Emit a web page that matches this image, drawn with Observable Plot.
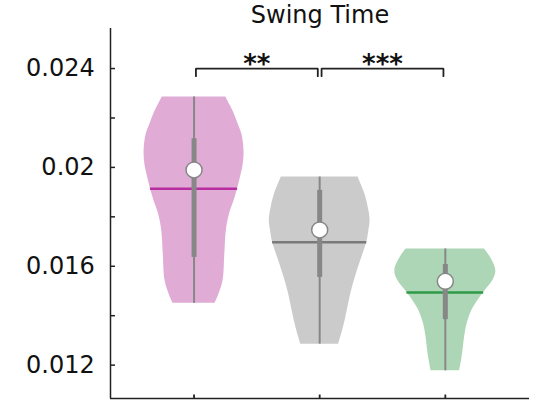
<!DOCTYPE html>
<html>
<head>
<meta charset="utf-8">
<script src="https://cdn.jsdelivr.net/npm/d3@7"></script>
<script src="https://cdn.jsdelivr.net/npm/@observablehq/plot@0.6"></script>
<style>
  html, body { margin: 0; padding: 0; background: #fff; }
  #chart svg { display: block; }
</style>
</head>
<body>
<div id="chart"></div>
<script>
// Group positions along x (the groups carry no tick labels)
const groupPos = [1, 2, 3];

// Violin outlines: sampled swing-time values (ascending) and kernel half-widths (x units)
const violin1Y = [0.01450, 0.01488, 0.01542, 0.01650, 0.01744, 0.01812, 0.01866, 0.01915, 0.01961, 0.02008, 0.02061, 0.02130, 0.02177, 0.02218, 0.02251, 0.02285];
const violin1W = [0.167, 0.199, 0.231, 0.245, 0.257, 0.283, 0.319, 0.347, 0.370, 0.390, 0.398, 0.383, 0.350, 0.319, 0.287, 0.253];

const violin2Y = [0.01285, 0.01352, 0.01420, 0.01488, 0.01555, 0.01623, 0.01697, 0.01740, 0.01785, 0.01839, 0.01893, 0.01961];
const violin2W = [0.151, 0.189, 0.219, 0.247, 0.283, 0.327, 0.375, 0.390, 0.401, 0.386, 0.359, 0.305];

const violin3Y = [0.01177, 0.01245, 0.01312, 0.01366, 0.01420, 0.01461, 0.01498, 0.01542, 0.01582, 0.01636, 0.01670];
const violin3W = [0.114, 0.137, 0.153, 0.173, 0.210, 0.259, 0.311, 0.378, 0.402, 0.359, 0.312];

// Summary statistics per group
const medians = [0.01990, 0.01747, 0.01539];   // white dots
const means   = [0.01914, 0.01697, 0.01494];   // coloured horizontal lines
const q1      = [0.01636, 0.01555, 0.01384];   // box bottom
const q3      = [0.02116, 0.01907, 0.01607];   // box top

// Y axis ticks
const yTicks = [0.012, 0.016, 0.02, 0.024];
const yTickLabels = ["0.012", "0.016", "0.02", "0.024"];
const yMinorTicks = [0.014, 0.018, 0.022];

// Significance brackets
const sigPairs = [[1, 2], [2, 3]];
const sigLabels = ["**", "***"];
const sigLevel = 0.024;

const titleText = "Swing Time";

// ---- styling ----
const fills = ["#e0acd6", "#cbcbcb", "#acd6b5"];
const meanColors = ["#b82da0", "#7a7a7a", "#2e9a48"];
const boxColor = "#878787";
const fontFamily = "DejaVu Sans, Liberation Sans, Arial, sans-serif";
const xDomain = [0.335, 3.67];
const yDomain = [0.01065, 0.02562];

const profiles = [
  {Y: violin1Y, W: violin1W},
  {Y: violin2Y, W: violin2W},
  {Y: violin3Y, W: violin3W}
];

// half-width of a violin at a given value (linear between samples)
function halfWidthAt(p, v) {
  for (let i = 1; i < p.Y.length; i++) {
    if (v <= p.Y[i]) {
      const t = (v - p.Y[i - 1]) / (p.Y[i] - p.Y[i - 1]);
      return p.W[i - 1] + t * (p.W[i] - p.W[i - 1]);
    }
  }
  return p.W[p.W.length - 1];
}

const marks = [];

groupPos.forEach((pos, g) => {
  const p = profiles[g];
  const rows = p.Y.map((v, i) => ({v, hw: p.W[i]}));
  // violin body
  marks.push(Plot.areaX(rows, {
    y: "v",
    x1: d => pos - d.hw,
    x2: d => pos + d.hw,
    fill: fills[g],
    curve: "catmull-rom"
  }));
  // mean line across the violin
  const hw = halfWidthAt(p, means[g]);
  marks.push(Plot.ruleY([means[g]], {
    x1: pos - hw, x2: pos + hw,
    stroke: meanColors[g], strokeWidth: 2.5
  }));
  // whisker from min to max
  marks.push(Plot.ruleX([pos], {
    y1: p.Y[0], y2: p.Y[p.Y.length - 1],
    stroke: boxColor, strokeWidth: 2
  }));
  // interquartile box
  marks.push(Plot.ruleX([pos], {
    y1: q1[g], y2: q3[g],
    stroke: boxColor, strokeWidth: 5
  }));
  // median dot
  marks.push(Plot.dot([pos], {
    x: d => d, y: medians[g],
    r: 8, fill: "white", stroke: boxColor, strokeWidth: 1.5
  }));
});

// significance brackets
const bracketDrop = 0.00031;
const inset = 0.015;
sigPairs.forEach(([a, b]) => {
  const x1 = a + inset, x2 = b - inset;
  const pts = [
    {x: x1, y: sigLevel - bracketDrop},
    {x: x1, y: sigLevel},
    {x: x2, y: sigLevel},
    {x: x2, y: sigLevel - bracketDrop}
  ];
  marks.push(Plot.line(pts, {x: "x", y: "y", stroke: "#222", strokeWidth: 1.8, strokeLinejoin: "miter"}));
});
marks.push(Plot.text(sigPairs.map(([a, b], i) => ({x: (a + b) / 2, label: sigLabels[i]})), {
  x: "x", y: sigLevel, text: "label", dy: -4,
  fontSize: 26, fontWeight: "bold", fontFamily, fill: "#111"
}));

// axes: box-style left and bottom lines with inward ticks
marks.push(Plot.ruleX([xDomain[0]], {stroke: "#222", strokeWidth: 1.5}));
marks.push(Plot.ruleY([yDomain[0]], {stroke: "#222", strokeWidth: 1.5}));
marks.push(Plot.ruleY(yTicks.concat(yMinorTicks), {
  x1: xDomain[0], x2: xDomain[0] + 0.04, stroke: "#222", strokeWidth: 1.5
}));
marks.push(Plot.ruleX(groupPos, {
  y1: yDomain[0], y2: yDomain[0] + 0.00014, stroke: "#222", strokeWidth: 1.8
}));
marks.push(Plot.axisY(yTicks, {
  anchor: "left", tickSize: 0, tickPadding: 15.7, label: null,
  tickFormat: d => yTickLabels[yTicks.indexOf(d)],
  fontSize: 24, fontFamily, color: "#111"
}));

// title
marks.push(Plot.text([titleText], {
  frameAnchor: "top", dy: -6, lineAnchor: "bottom",
  fontSize: 24, fontFamily, fill: "#111"
}));

const chart = Plot.plot({
  width: 541,
  height: 402,
  marginLeft: 110,
  marginRight: 12,
  marginTop: 28,
  marginBottom: 4,
  style: {fontFamily, background: "#fff"},
  x: {domain: xDomain, axis: null},
  y: {domain: yDomain, axis: null},
  marks
});
document.getElementById("chart").appendChild(chart);
</script>
</body>
</html>
